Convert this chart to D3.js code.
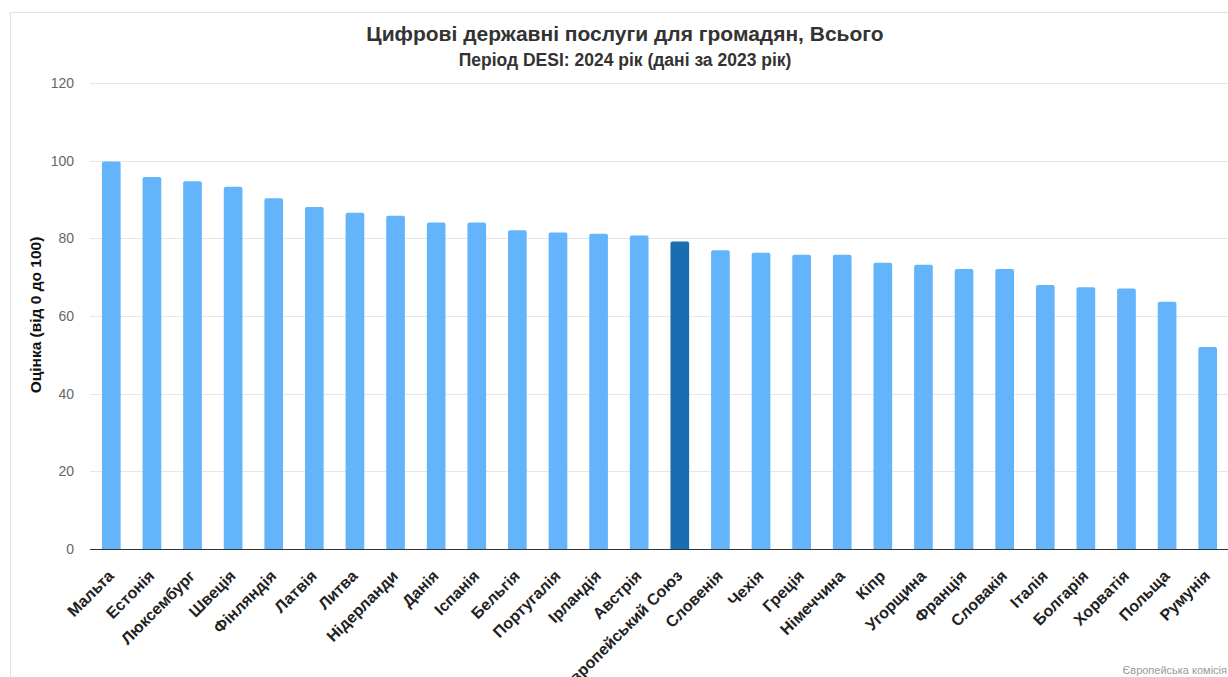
<!DOCTYPE html>
<html>
<head>
<meta charset="utf-8">
<script src="https://cdn.jsdelivr.net/npm/d3@7"></script>
<style>
  html, body { margin: 0; padding: 0; background: #fff; overflow: hidden; }
  svg { display: block; font-family: "Liberation Sans", Arial, sans-serif; }
</style>
</head>
<body>
<svg id="chart" width="1228" height="677"></svg>
<script>
// DESI 2024: digital public services for citizens, overall score
const countries = ["Мальта", "Естонія", "Люксембург", "Швеція", "Фінляндія", "Латвія", "Литва",
  "Нідерланди", "Данія", "Іспанія", "Бельгія", "Португалія", "Ірландія", "Австрія",
  "Європейський Союз", "Словенія", "Чехія", "Греція", "Німеччина", "Кіпр", "Угорщина",
  "Франція", "Словакія", "Італія", "Болгарія", "Хорватія", "Польща", "Румунія"];
const scores = [99.8, 95.8, 94.7, 93.3, 90.3, 88.1, 86.6, 85.8, 84.1, 84.1, 82.1, 81.5, 81.2, 80.7,
  79.2, 76.9, 76.3, 75.8, 75.8, 73.7, 73.2, 72.1, 72.1, 68.0, 67.4, 67.1, 63.7, 52.0];
const highlighted = ["Європейський Союз"];
const yTicks = [0, 20, 40, 60, 80, 100, 120];

const titleText = "Цифрові державні послуги для громадян, Всього";
const subtitleText = "Період DESI: 2024 рік (дані за 2023 рік)";
const yTitleText = "Оцінка (від 0 до 100)";
const creditText = "Європейська комісія";

const svg = d3.select("#chart");
const plot = { left: 91, right: 1228, top: 83, bottom: 549 };

// outer frame (left and top edges are visible)
svg.append("line").attr("x1", 10.5).attr("x2", 10.5).attr("y1", 12).attr("y2", 677)
  .attr("stroke", "#e3e3e3").attr("stroke-width", 1);
svg.append("line").attr("x1", 10).attr("x2", 1228).attr("y1", 12.5).attr("y2", 12.5)
  .attr("stroke", "#e3e3e3").attr("stroke-width", 1);

const x = d3.scaleBand()
  .domain(countries)
  .range([plot.left, plot.right])
  .paddingInner(0.54)
  .paddingOuter(0.27);

const y = d3.scaleLinear().domain([0, 120]).range([plot.bottom, plot.top]);

// horizontal grid
svg.append("g")
  .selectAll("line")
  .data(yTicks.filter(d => d !== 0))
  .join("line")
  .attr("x1", plot.left - 1).attr("x2", plot.right)
  .attr("y1", d => Math.round(y(d)) + 0.5).attr("y2", d => Math.round(y(d)) + 0.5)
  .attr("stroke", "#e6e6e6").attr("stroke-width", 1);

// y tick labels
const yAxis = d3.axisLeft(y).tickValues(yTicks).tickSize(0).tickPadding(0);
const yg = svg.append("g").attr("transform", `translate(${plot.left - 17},0)`).call(yAxis);
yg.select(".domain").remove();
yg.selectAll("text")
  .attr("fill", "#666").attr("font-size", 14)
  .attr("font-family", "Liberation Sans, Arial, sans-serif");

// bars with slightly rounded tops
const r = 2;
svg.append("g")
  .selectAll("path")
  .data(countries.map((c, i) => ({ c, v: scores[i] })))
  .join("path")
  .attr("fill", d => highlighted.includes(d.c) ? "#1a6db1" : "#63b4fa")
  .attr("d", d => {
    const x0 = x(d.c), w = x.bandwidth(), y0 = y(d.v), yb = y(0);
    return `M${x0},${yb} V${y0 + r} Q${x0},${y0} ${x0 + r},${y0} H${x0 + w - r} Q${x0 + w},${y0} ${x0 + w},${y0 + r} V${yb} Z`;
  });

// x axis line
svg.append("line")
  .attr("x1", plot.left - 1).attr("x2", plot.right)
  .attr("y1", plot.bottom + 0.5).attr("y2", plot.bottom + 0.5)
  .attr("stroke", "#333").attr("stroke-width", 1);

// rotated category labels
const xAxis = d3.axisBottom(x).tickSize(0).tickPadding(0);
const xg = svg.append("g").attr("transform", `translate(0,${plot.bottom})`).call(xAxis);
xg.select(".domain").remove();
xg.selectAll(".tick text")
  .attr("fill", "#222").attr("font-size", 16).attr("font-weight", "bold")
  .attr("font-family", "Liberation Sans, Arial, sans-serif")
  .attr("text-anchor", "end")
  .attr("dy", 0)
  .attr("y", 0)
  .attr("transform", "translate(3.5,28) rotate(-45)");

// y axis title
svg.append("text")
  .attr("transform", "translate(41,315) rotate(-90)")
  .attr("text-anchor", "middle")
  .attr("font-size", 15.5).attr("font-weight", "bold").attr("fill", "#111")
  .text(yTitleText);

// titles
svg.append("text").attr("x", 625).attr("y", 41)
  .attr("text-anchor", "middle").attr("font-size", 21).attr("font-weight", "bold").attr("fill", "#333")
  .text(titleText);
svg.append("text").attr("x", 625).attr("y", 66)
  .attr("text-anchor", "middle").attr("font-size", 17.5).attr("font-weight", "bold").attr("fill", "#333")
  .text(subtitleText);

// credit
svg.append("text").attr("x", 1227).attr("y", 674)
  .attr("text-anchor", "end").attr("font-size", 11).attr("fill", "#999")
  .text(creditText);
</script>
</body>
</html>
